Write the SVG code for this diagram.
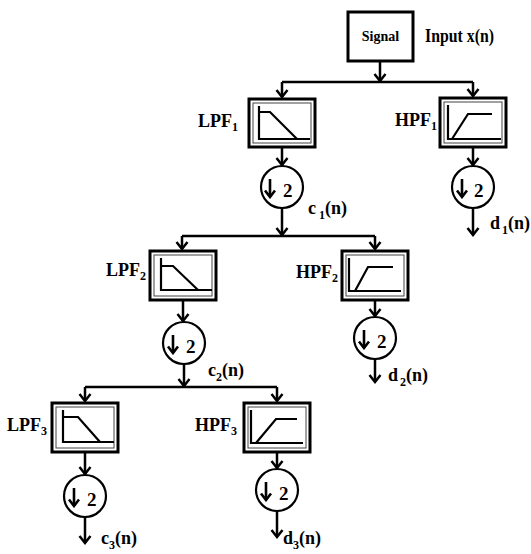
<svg xmlns="http://www.w3.org/2000/svg" width="531" height="554" viewBox="0 0 531 554">
<defs>
<style>
.t{font-family:"Liberation Serif","Times New Roman",serif;font-weight:bold;fill:#000;}
.lbl{font-size:18px;}
.sub{font-size:12px;}
.two{font-size:19px;}
.box{fill:#fff;stroke:#000;stroke-width:3;}
.inner{fill:none;stroke:#444;stroke-width:1;}
.curve{fill:none;stroke:#000;stroke-width:2.2;}
.ds{fill:#fff;stroke:#000;stroke-width:2.2;}
.con{fill:none;stroke:#000;stroke-width:2.5;}
.dn{fill:none;stroke:#000;stroke-width:2.6;}
</style>
<marker id="arr" viewBox="-10 -8 12 16" refX="0" refY="0" markerWidth="12" markerHeight="16" markerUnits="userSpaceOnUse" orient="auto">
<path d="M-7,-5.5 L0,0 L-7,5.5" fill="none" stroke="#000" stroke-width="2.5"/>
</marker>
<marker id="arrs" viewBox="-9 -7 11 14" refX="0" refY="0" markerWidth="11" markerHeight="14" markerUnits="userSpaceOnUse" orient="auto">
<path d="M-6.5,-5 L0,0 L-6.5,5" fill="none" stroke="#000" stroke-width="2.6"/>
</marker>
</defs>
<rect width="531" height="554" fill="#fff"/>

<g id="connectors">
<path class="con" d="M380,61 V81" marker-end="url(#arr)"/>
<path class="con" d="M282,82 H473"/>
<path class="con" d="M282,82 V97" marker-end="url(#arr)"/>
<path class="con" d="M473,82 V96" marker-end="url(#arr)"/>
<path class="con" d="M282,147 V165" marker-end="url(#arr)"/>
<path class="con" d="M473,147 V165" marker-end="url(#arr)"/>
<path class="con" d="M282,208 V235" marker-end="url(#arr)"/>
<path class="con" d="M473,208 V235" marker-end="url(#arr)"/>
<path class="con" d="M182,236 H375"/>
<path class="con" d="M182,236 V249" marker-end="url(#arr)"/>
<path class="con" d="M375,236 V249" marker-end="url(#arr)"/>
<path class="con" d="M183,300 V321" marker-end="url(#arr)"/>
<path class="con" d="M375,300 V316" marker-end="url(#arr)"/>
<path class="con" d="M184,364 V386" marker-end="url(#arr)"/>
<path class="con" d="M375,359 V382" marker-end="url(#arr)"/>
<path class="con" d="M85,387 H277"/>
<path class="con" d="M85,387 V401" marker-end="url(#arr)"/>
<path class="con" d="M277,387 V401" marker-end="url(#arr)"/>
<path class="con" d="M85,452 V474" marker-end="url(#arr)"/>
<path class="con" d="M277,452 V468" marker-end="url(#arr)"/>
<path class="con" d="M85,517 V543" marker-end="url(#arr)"/>
<path class="con" d="M277,511 V537" marker-end="url(#arr)"/>
</g>

<g id="signal">
<rect class="box" x="348" y="12" width="65" height="49"/>
<text class="t" x="380.5" y="41" font-size="14" text-anchor="middle">Signal</text>
<text class="t" x="425" y="42" font-size="19" textLength="69" lengthAdjust="spacingAndGlyphs">Input x(n)</text>
</g>

<g id="lpf1">
<rect class="box" x="249" y="99" width="66" height="48"/>
<rect class="inner" x="253" y="103" width="58" height="40"/>
<path class="curve" d="M259,106 V139 H310 M259,112 H270 L297,139"/>
<text class="t lbl" x="198" y="127">LPF<tspan class="sub" dy="4">1</tspan></text>
</g>

<g id="hpf1">
<rect class="box" x="440" y="98" width="66" height="49"/>
<rect class="inner" x="444" y="102" width="58" height="41"/>
<path class="curve" d="M448,105 V139 H501 M452,139 L468,114 H492"/>
<text class="t lbl" x="395" y="126">HPF<tspan class="sub" dy="4">1</tspan></text>
</g>

<g id="ds-c1">
<circle class="ds" cx="282" cy="187" r="21"/>
<path class="dn" d="M270,179 V197" marker-end="url(#arrs)"/>
<text class="t two" x="283" y="197">2</text>
<text class="t lbl" x="308" y="214">c<tspan class="sub" dx="3" dy="5">1</tspan><tspan dy="-5">(n)</tspan></text>
</g>

<g id="ds-d1">
<circle class="ds" cx="473" cy="187" r="21"/>
<path class="dn" d="M462,179 V197" marker-end="url(#arrs)"/>
<text class="t two" x="474" y="197">2</text>
<text class="t lbl" x="490" y="229">d<tspan class="sub" dx="2" dy="5">1</tspan><tspan dy="-5">(n)</tspan></text>
</g>

<g id="lpf2">
<rect class="box" x="150" y="251" width="66" height="49"/>
<rect class="inner" x="154" y="255" width="58" height="41"/>
<path class="curve" d="M161,258 V290 H212 M161,266 H173 L198,290"/>
<text class="t lbl" x="106" y="276">LPF<tspan class="sub" dy="4">2</tspan></text>
</g>

<g id="hpf2">
<rect class="box" x="342" y="251" width="66" height="49"/>
<rect class="inner" x="346" y="255" width="58" height="41"/>
<path class="curve" d="M349,258 V291 H401 M355,291 L368,267 H393"/>
<text class="t lbl" x="296" y="278">HPF<tspan class="sub" dy="4">2</tspan></text>
</g>

<g id="ds-c2">
<circle class="ds" cx="184" cy="343" r="21"/>
<path class="dn" d="M173,335 V353" marker-end="url(#arrs)"/>
<text class="t two" x="186" y="353">2</text>
<text class="t lbl" x="208" y="376">c<tspan class="sub" dy="5">2</tspan><tspan dy="-5">(n)</tspan></text>
</g>

<g id="ds-d2">
<circle class="ds" cx="375" cy="338" r="21"/>
<path class="dn" d="M364,330 V348" marker-end="url(#arrs)"/>
<text class="t two" x="377" y="348">2</text>
<text class="t lbl" x="388" y="381">d<tspan class="sub" dx="2" dy="5">2</tspan><tspan dy="-5">(n)</tspan></text>
</g>

<g id="lpf3">
<rect class="box" x="52" y="403" width="66" height="49"/>
<rect class="inner" x="56" y="407" width="58" height="41"/>
<path class="curve" d="M63,410 V442 H114 M63,417 H78 L100,442"/>
<text class="t lbl" x="7" y="431">LPF<tspan class="sub" dy="4">3</tspan></text>
</g>

<g id="hpf3">
<rect class="box" x="244" y="403" width="66" height="49"/>
<rect class="inner" x="248" y="407" width="58" height="41"/>
<path class="curve" d="M251,410 V443 H303 M256,443 L276,419 H297"/>
<text class="t lbl" x="195" y="431">HPF<tspan class="sub" dy="4">3</tspan></text>
</g>

<g id="ds-c3">
<circle class="ds" cx="85" cy="496" r="21"/>
<path class="dn" d="M74,488 V506" marker-end="url(#arrs)"/>
<text class="t two" x="87" y="506">2</text>
<text class="t lbl" x="101" y="544">c<tspan class="sub" dy="5">3</tspan><tspan dy="-5">(n)</tspan></text>
</g>

<g id="ds-d3">
<circle class="ds" cx="277" cy="490" r="21"/>
<path class="dn" d="M266,482 V500" marker-end="url(#arrs)"/>
<text class="t two" x="279" y="500">2</text>
<text class="t lbl" x="283" y="544">d<tspan class="sub" dy="5">3</tspan><tspan dy="-5">(n)</tspan></text>
</g>
</svg>
